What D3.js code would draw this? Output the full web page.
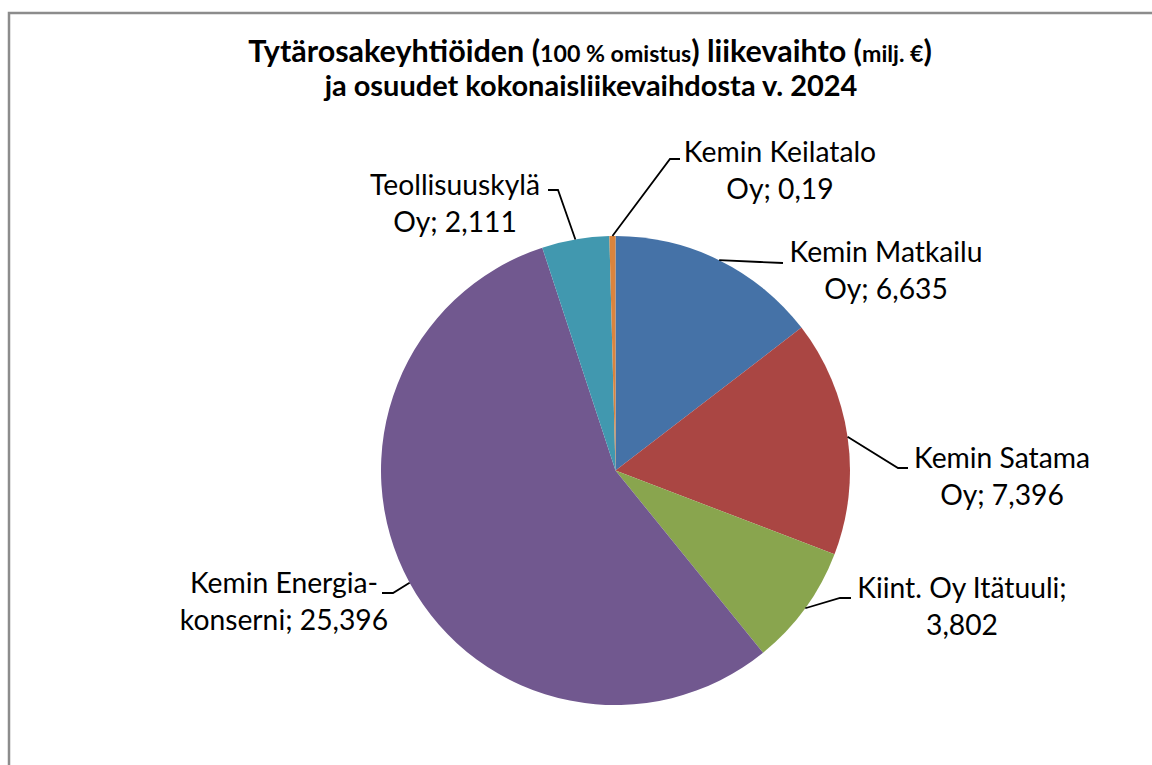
<!DOCTYPE html>
<html>
<head>
<meta charset="utf-8">
<script src="https://cdn.jsdelivr.net/npm/d3@7"></script>
<style>
  html, body { margin: 0; padding: 0; background: #fff; }
  svg { display: block; }
</style>
</head>
<body>
<script>
// data
const companies = ["Kemin Matkailu Oy", "Kemin Satama Oy", "Kiint. Oy Itätuuli",
                   "Kemin Energia-konserni", "Teollisuuskylä Oy", "Kemin Keilatalo Oy"];
const revenue = [6.635, 7.396, 3.802, 25.396, 2.111, 0.19];
const labelLines = [
    ["Kemin Matkailu", "Oy; 6,635"],
    ["Kemin Satama", "Oy; 7,396"],
    ["Kiint. Oy Itätuuli;", "3,802"],
    ["Kemin Energia-", "konserni; 25,396"],
    ["Teollisuuskylä", "Oy; 2,111"],
    ["Kemin Keilatalo", "Oy; 0,19"]
];
const sliceColors = ["#4572A7", "#AA4643", "#89A54E", "#71588F", "#4198AF", "#DB843D"];

// label layout: text centre x, first baseline, leader elbow, leader end
const labelLayout = [
    {x: 886, y: 262, elbow: [760, 262], end: [783, 263]},
    {x: 1002, y: 468, elbow: [898, 468], end: [908, 468]},
    {x: 962, y: 598, elbow: [840, 598], end: [851, 598]},
    {x: 284, y: 593, elbow: [393, 593], end: [382, 593]},
    {x: 455, y: 195, elbow: [558, 190], end: [548, 190]},
    {x: 780, y: 162, elbow: [670, 159], end: [680, 159]}
];

const width = 1152, height = 765;
const cx = 615.5, cy = 470.5, radius = 234.5;
const font = "Lato, 'Open Sans', sans-serif";

const svg = d3.select("body").append("svg")
    .attr("width", width)
    .attr("height", height);

// chart frame
svg.append("rect")
    .attr("x", 9)
    .attr("y", 13)
    .attr("width", width + 20)
    .attr("height", height + 20)
    .style("fill", "#fff")
    .style("stroke", "#8c8c8c")
    .style("stroke-width", 2.5);

// fit label font size to the reference width of "Kemin Matkailu"
const probe = svg.append("text").style("font-family", font).style("font-size", "100px").text("Kemin Matkailu");
const labelSize = 100 * 193 / probe.node().getComputedTextLength();
probe.remove();

// title
const title = svg.append("g")
    .style("font-family", font)
    .style("font-weight", "bold")
    .style("fill", "#000");

const t1 = title.append("text")
    .attr("x", 590)
    .attr("y", 62)
    .attr("text-anchor", "middle")
    .style("font-size", "25px");
t1.append("tspan").text("Tytärosakeyhtiöiden (");
t1.append("tspan").attr("class", "small").style("font-size", "19px").text("100 % omistus");
t1.append("tspan").text(") liikevaihto (");
t1.append("tspan").attr("class", "small").style("font-size", "19px").text("milj. €");
t1.append("tspan").text(")");

const t2 = title.append("text")
    .attr("x", 591)
    .attr("y", 96)
    .attr("text-anchor", "middle")
    .style("font-size", "25px")
    .text("ja osuudet kokonaisliikevaihdosta v. 2024");

// scale title lines to the reference widths
const k1 = 684 / t1.node().getComputedTextLength();
t1.style("font-size", 25 * k1 + "px");
t1.selectAll(".small").style("font-size", 19 * k1 + "px");
const k2 = 533 / t2.node().getComputedTextLength();
t2.style("font-size", 25 * k2 + "px");

// pie
const pie = d3.pie().sort(null).value(d => d);
const arcs = pie(revenue);
const arc = d3.arc().innerRadius(0).outerRadius(radius);

const g = svg.append("g").attr("transform", `translate(${cx},${cy})`);
g.selectAll("path")
    .data(arcs)
    .enter().append("path")
    .attr("d", arc)
    .style("fill", (d, i) => sliceColors[i]);

// leader lines from slice edge midpoint
arcs.forEach((d, i) => {
    const mid = (d.startAngle + d.endAngle) / 2;
    const ex = cx + radius * Math.sin(mid);
    const ey = cy - radius * Math.cos(mid);
    const l = labelLayout[i];
    svg.append("polyline")
        .attr("points", [[ex, ey], l.elbow, l.end].map(p => p.join(",")).join(" "))
        .style("fill", "none")
        .style("stroke", "#000")
        .style("stroke-width", 1.8);
});

// labels
labelLines.forEach((lines, i) => {
    const l = labelLayout[i];
    const txt = svg.append("text")
        .attr("text-anchor", "middle")
        .style("font-family", font)
        .style("font-size", labelSize + "px")
        .style("fill", "#000");
    lines.forEach((line, j) => {
        txt.append("tspan")
            .attr("x", l.x)
            .attr("y", l.y + j * 37)
            .text(line);
    });
});
</script>
</body>
</html>
